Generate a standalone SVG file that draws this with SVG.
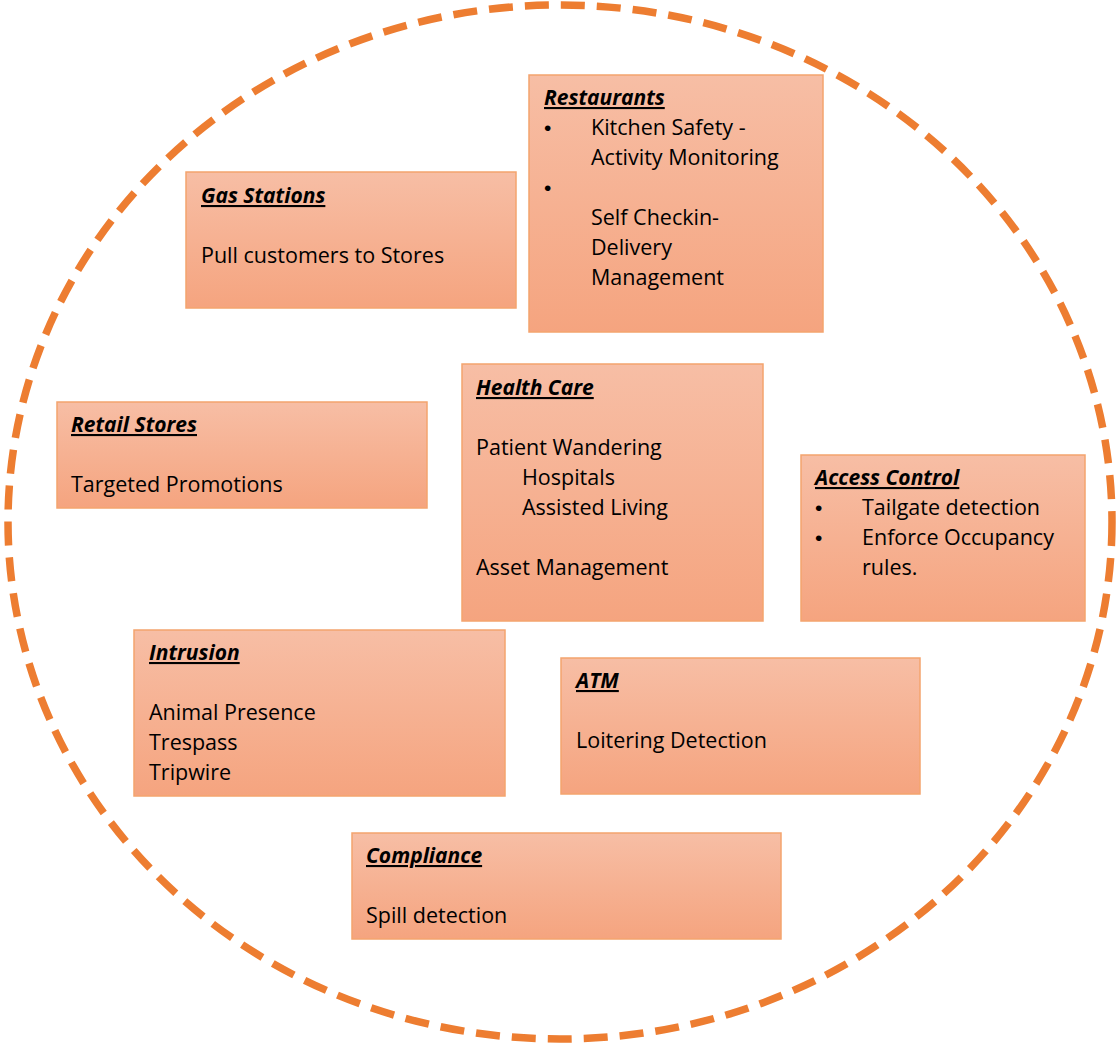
<svg xmlns="http://www.w3.org/2000/svg" width="1120" height="1045" viewBox="0 0 1120 1045">
<defs>
<linearGradient id="g" x1="0" y1="0" x2="0" y2="1">
<stop offset="0" stop-color="#F7BEA5"/>
<stop offset="1" stop-color="#F5A47F"/>
</linearGradient>
</defs>
<style>
.box{fill:url(#g);stroke:#F4A46E;stroke-width:1.5}
text{font-family:"Open Sans","Liberation Sans",Arial,sans-serif;font-size:21.5px;fill:#000}
.t{font-weight:bold;font-style:italic;text-decoration:underline;font-size:21px}
.b{font-family:"Liberation Sans",Arial,sans-serif;font-size:21px}
</style>
<rect width="1120" height="1045" fill="#fff"/>
<ellipse cx="560" cy="522" rx="552" ry="517" fill="none" stroke="#ED7D31" stroke-width="7.5" stroke-dasharray="24 12"/>
<g id="restaurants">
<rect class="box" x="529" y="75" width="294" height="257"/>
<text class="t" x="544" y="105">Restaurants</text>
<text class="b" x="544" y="135">•</text><text x="591" y="135">Kitchen Safety -</text>
<text x="591" y="165">Activity Monitoring</text>
<text class="b" x="544" y="195">•</text>
<text x="591" y="225">Self Checkin-</text>
<text x="591" y="255">Delivery</text>
<text x="591" y="285">Management</text>
</g>
<g id="gas-stations">
<rect class="box" x="186" y="172" width="330" height="136"/>
<text class="t" x="201" y="203">Gas Stations</text>
<text x="201" y="263">Pull customers to Stores</text>
</g>
<g id="retail-stores">
<rect class="box" x="57" y="402" width="370" height="106"/>
<text class="t" x="71" y="432">Retail Stores</text>
<text x="71" y="492">Targeted Promotions</text>
</g>
<g id="health-care">
<rect class="box" x="462" y="364" width="301" height="257"/>
<text class="t" x="476" y="395">Health Care</text>
<text x="476" y="455">Patient Wandering</text>
<text x="522" y="485">Hospitals</text>
<text x="522" y="515">Assisted Living</text>
<text x="476" y="575">Asset Management</text>
</g>
<g id="access-control">
<rect class="box" x="801" y="455" width="284" height="166"/>
<text class="t" x="815" y="485">Access Control</text>
<text class="b" x="815" y="515">•</text><text x="862" y="515">Tailgate detection</text>
<text class="b" x="815" y="545">•</text><text x="862" y="545">Enforce Occupancy</text>
<text x="862" y="575">rules.</text>
</g>
<g id="intrusion">
<rect class="box" x="134" y="630" width="371" height="166"/>
<text class="t" x="149" y="660">Intrusion</text>
<text x="149" y="720">Animal Presence</text>
<text x="149" y="750">Trespass</text>
<text x="149" y="780">Tripwire</text>
</g>
<g id="atm">
<rect class="box" x="561" y="658" width="359" height="136"/>
<text class="t" x="576" y="688">ATM</text>
<text x="576" y="748">Loitering Detection</text>
</g>
<g id="compliance">
<rect class="box" x="352" y="833" width="429" height="106"/>
<text class="t" x="366" y="863">Compliance</text>
<text x="366" y="923">Spill detection</text>
</g>
<g id="connectors"/>
</svg>
